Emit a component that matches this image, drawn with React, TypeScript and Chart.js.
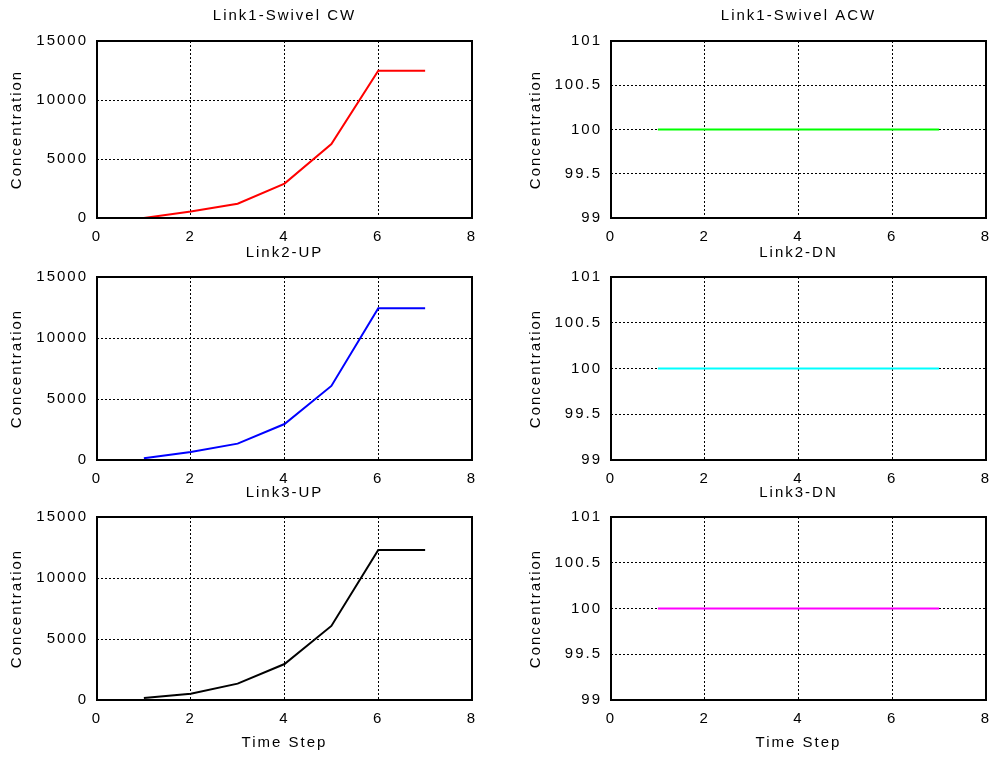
import React, { useEffect, useRef } from 'react';
import { Chart, registerables } from 'chart.js';

Chart.register(...registerables);

// ---------- data ----------
const timeSteps = [1, 2, 3, 4, 5, 6, 7];
const link1SwivelCW = [0, 560, 1210, 2920, 6260, 12480, 12480];
const link2UP = [140, 660, 1340, 2950, 6070, 12430, 12430];
const link3UP = [160, 520, 1340, 2950, 6070, 12300, 12300];
const link1SwivelACW = [100, 100, 100, 100, 100, 100, 100];
const link2DN = [100, 100, 100, 100, 100, 100, 100];
const link3DN = [100, 100, 100, 100, 100, 100, 100];

const xTickValues = [0, 2, 4, 6, 8];
const concTickValues = [0, 5000, 10000, 15000];
const flatTickValues = [99, 99.5, 100, 100.5, 101];

const xLabel = 'Time Step';
const yLabel = 'Concentration';

// ---------- layout ----------
const FONT = "'Liberation Sans', Arial, Helvetica, sans-serif";

const rows = [
  { top: 0, height: 250, plotTop: 41, plotBottom: 218, titlePadTop: 7 },
  { top: 240, height: 250, plotTop: 37, plotBottom: 220, titlePadTop: 4 },
  { top: 480, height: 277, plotTop: 37, plotBottom: 220, titlePadTop: 4 },
];
const cols = [
  { left: 0, width: 497, plotLeft: 97, plotRight: 472, ylabelCenter: 17 },
  { left: 497, width: 498, plotLeft: 114, plotRight: 489, ylabelCenter: 39 },
];

type PanelDef = {
  title: string;
  values: number[];
  color: string;
  yTicks: number[];
  row: number;
  col: number;
};

const panels: PanelDef[] = [
  { title: 'Link1-Swivel CW', values: link1SwivelCW, color: '#ff0000', yTicks: concTickValues, row: 0, col: 0 },
  { title: 'Link1-Swivel ACW', values: link1SwivelACW, color: '#00ff00', yTicks: flatTickValues, row: 0, col: 1 },
  { title: 'Link2-UP', values: link2UP, color: '#0000ff', yTicks: concTickValues, row: 1, col: 0 },
  { title: 'Link2-DN', values: link2DN, color: '#00ffff', yTicks: flatTickValues, row: 1, col: 1 },
  { title: 'Link3-UP', values: link3UP, color: '#000000', yTicks: concTickValues, row: 2, col: 0 },
  { title: 'Link3-DN', values: link3DN, color: '#ff00ff', yTicks: flatTickValues, row: 2, col: 1 },
];

const spacingPlugin = {
  id: 'letterSpacing',
  beforeDraw(chart: any) {
    chart.ctx.letterSpacing = '2px';
  },
};

const boxPlugin = {
  id: 'axesBox',
  afterDatasetsDraw(chart: any) {
    const { ctx, chartArea } = chart;
    const { left, top, right, bottom } = chartArea;
    ctx.save();
    ctx.setLineDash([]);
    ctx.strokeStyle = '#000';
    ctx.lineWidth = 2;
    ctx.strokeRect(left, top, right - left, bottom - top);
    ctx.restore();
  },
};

function Panel({ def }: { def: PanelDef }) {
  const ref = useRef<HTMLCanvasElement | null>(null);
  const row = rows[def.row];
  const col = cols[def.col];
  const isBottom = def.row === 2;

  useEffect(() => {
    if (!ref.current) return;
    const yMin = def.yTicks[0];
    const yMax = def.yTicks[def.yTicks.length - 1];
    const xMin = xTickValues[0];
    const xMax = xTickValues[xTickValues.length - 1];
    const textColor = '#000';
    const gridColor = (min: number, max: number) => (c: any) => {
      const v = c.tick ? c.tick.value : null;
      return v === min || v === max ? 'rgba(0,0,0,0)' : '#000';
    };
    const chart = new Chart(ref.current, {
      type: 'line',
      data: {
        datasets: [
          {
            data: timeSteps.map((x, i) => ({ x, y: def.values[i] })),
            borderColor: def.color,
            backgroundColor: def.color,
            borderWidth: 2,
            pointRadius: 0,
            tension: 0,
            fill: false,
          },
        ],
      },
      options: {
        responsive: false,
        animation: false,
        devicePixelRatio: 1,
        events: [],
        layout: { padding: { left: 0, right: col.width - col.plotRight, top: 0, bottom: 0 } },
        plugins: {
          legend: { display: false },
          tooltip: { enabled: false },
          title: {
            display: true,
            text: def.title,
            fullSize: false,
            color: textColor,
            font: { family: FONT, size: 15, weight: 'normal' },
            padding: { top: row.titlePadTop, bottom: row.plotTop - row.titlePadTop - 18 },
          },
        },
        scales: {
          x: {
            type: 'linear',
            min: xMin,
            max: xMax,
            afterBuildTicks: (s: any) => {
              s.ticks = xTickValues.map((v) => ({ value: v }));
            },
            afterFit: (s: any) => {
              s.height = row.height - row.plotBottom;
              s.paddingLeft = 0;
              s.paddingRight = 0;
            },
            ticks: {
              color: textColor,
              font: { family: FONT, size: 15 },
              padding: 10,
              maxRotation: 0,
              autoSkip: false,
              callback: (v: any) => String(v),
            },
            grid: { color: gridColor(xMin, xMax), lineWidth: 1, drawTicks: false },
            border: { display: false, dash: [2, 2] },
            title: {
              display: isBottom,
              text: xLabel,
              color: textColor,
              font: { family: FONT, size: 15 },
              padding: { top: 0, bottom: 5 },
            },
          },
          y: {
            type: 'linear',
            min: yMin,
            max: yMax,
            afterBuildTicks: (s: any) => {
              s.ticks = def.yTicks.map((v) => ({ value: v }));
            },
            afterFit: (s: any) => {
              s.width = col.plotLeft;
              s.paddingTop = 0;
              s.paddingBottom = 0;
            },
            ticks: {
              color: textColor,
              font: { family: FONT, size: 15 },
              padding: 9,
              callback: (v: any) => String(v),
            },
            grid: { color: gridColor(yMin, yMax), lineWidth: 1, drawTicks: false },
            border: { display: false, dash: [2, 2] },
            title: {
              display: true,
              text: yLabel,
              color: textColor,
              font: { family: FONT, size: 15 },
              padding: { top: col.ylabelCenter - 9, bottom: 0 },
            },
          },
        },
      } as any,
      plugins: [spacingPlugin, boxPlugin],
    });
    return () => chart.destroy();
  }, []);

  return (
    <canvas
      ref={ref}
      width={col.width}
      height={row.height}
      style={{
        position: 'absolute',
        left: col.left,
        top: row.top,
        width: col.width,
        height: row.height,
      }}
    />
  );
}

export default function App() {
  return (
    <div
      style={{
        position: 'absolute',
        left: 0,
        top: 0,
        width: 995,
        height: 757,
        background: '#fff',
        overflow: 'hidden',
      }}
    >
      {panels.map((p, i) => (
        <Panel key={i} def={p} />
      ))}
    </div>
  );
}
